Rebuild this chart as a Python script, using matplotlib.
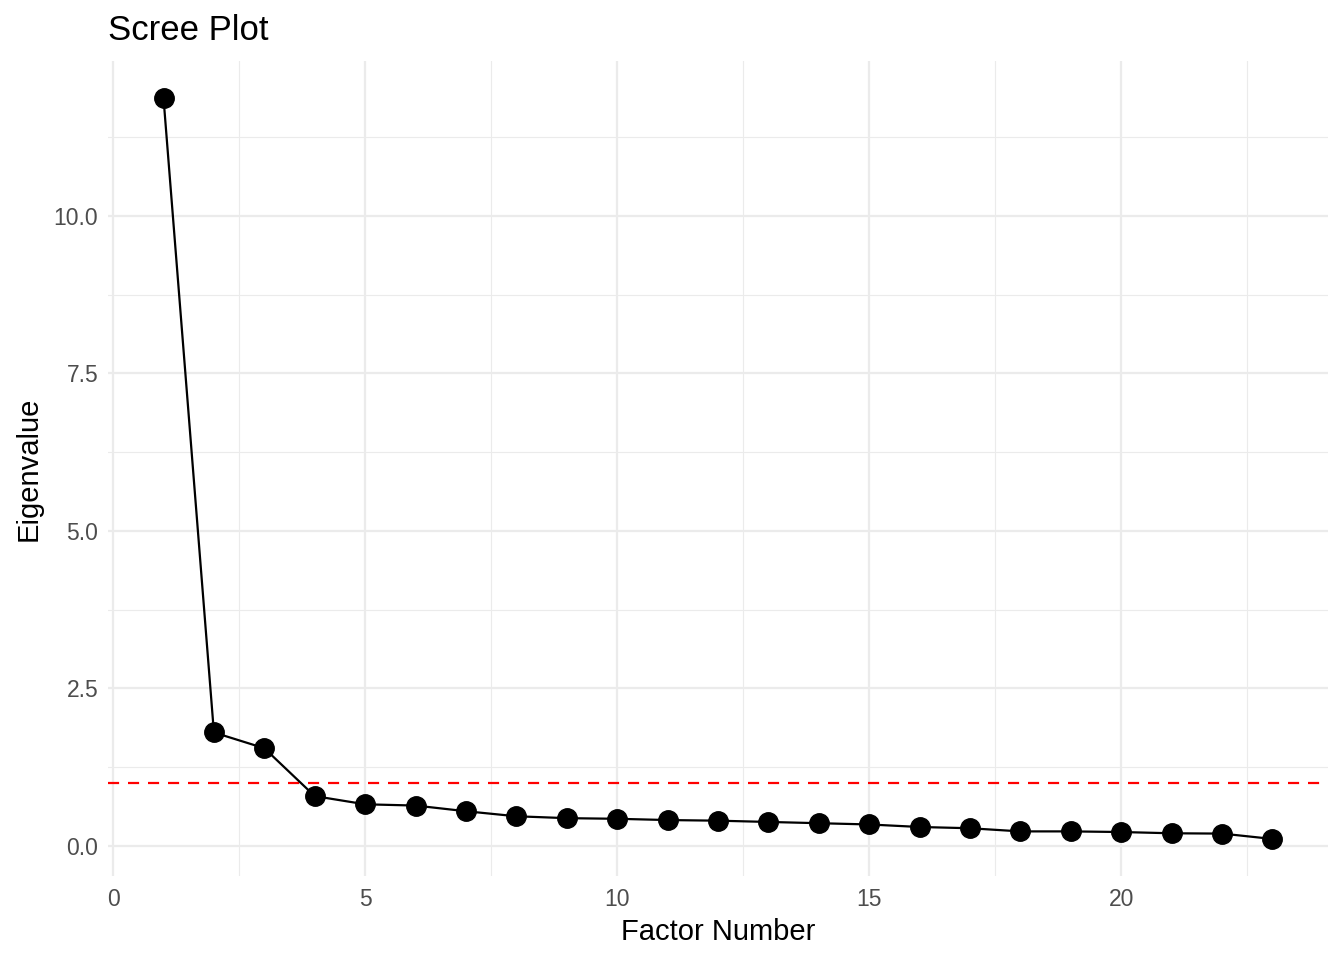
import numpy as np
import matplotlib
matplotlib.use("Agg")
import matplotlib.pyplot as plt

plt.rcParams['font.family'] = ['Liberation Sans', 'DejaVu Sans']

# eigenvalues
factors = np.arange(1, 24)
eigenvalues = [11.87, 1.80, 1.55, 0.79, 0.66, 0.64, 0.55, 0.47, 0.44, 0.43,
               0.41, 0.40, 0.38, 0.36, 0.34, 0.30, 0.28, 0.23, 0.23, 0.22,
               0.20, 0.195, 0.11]
kaiser = 1.0

x_major = [0, 5, 10, 15, 20]
x_minor = [2.5, 7.5, 12.5, 17.5, 22.5]
y_major = [0.0, 2.5, 5.0, 7.5, 10.0]
y_minor = [1.25, 3.75, 6.25, 8.75, 11.25]

fig = plt.figure(figsize=(13.44, 9.6), dpi=100)
ax = fig.add_axes([0.0804, 0.0875, 0.988 - 0.0804, 0.9365 - 0.0875])

# ggplot-like ranges (5% expansion of data)
xr = factors.max() - factors.min()
ax.set_xlim(factors.min() - 0.05 * xr, factors.max() + 0.05 * xr)
yr = max(eigenvalues) - min(eigenvalues)
ax.set_ylim(min(eigenvalues) - 0.05 * yr, max(eigenvalues) + 0.05 * yr)

ax.set_xticks(x_major)
ax.set_xticks(x_minor, minor=True)
ax.set_yticks(y_major)
ax.set_yticks(y_minor, minor=True)
ax.set_yticklabels([f"{v:.1f}" for v in y_major])

ax.grid(which='major', color='#EBEBEB', linewidth=1.6)
ax.grid(which='minor', color='#EBEBEB', linewidth=0.8)
ax.set_axisbelow(True)
for s in ax.spines.values():
    s.set_visible(False)
ax.tick_params(which='both', length=0, labelsize=16.5, colors='#4D4D4D')
ax.tick_params(axis='x', pad=9)
ax.tick_params(axis='y', pad=7)

ax.axhline(kaiser, color='#FF0000', linewidth=1.6, dashes=(5, 4), zorder=2)
ax.plot(factors, eigenvalues, color='black', linewidth=1.6, zorder=3)
ax.plot(factors, eigenvalues, 'o', color='black', markersize=14, zorder=4)

ax.set_xlabel("Factor Number", fontsize=21, labelpad=5)
ax.set_ylabel("Eigenvalue", fontsize=21, labelpad=8)
ax.set_title("Scree Plot", fontsize=25, loc='left', pad=15)

fig.savefig("out.png", dpi=100, facecolor='white')
